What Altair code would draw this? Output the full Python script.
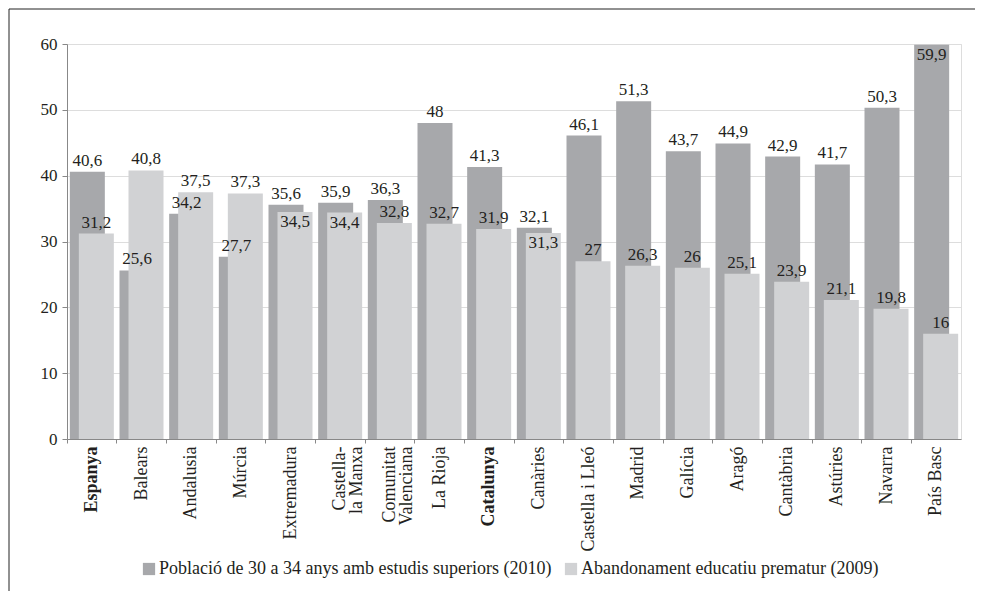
import altair as alt
import pandas as pd

categories = ["Espanya", "Balears", "Andalusia", "Múrcia", "Extremadura",
              "Castella-|la Manxa", "Comunitat|Valenciana", "La Rioja", "Catalunya",
              "Canàries", "Castella i Lleó", "Madrid", "Galícia", "Aragó",
              "Cantàbria", "Astúries", "Navarra", "País Basc"]
superiors = [40.6, 25.6, 34.2, 27.7, 35.6, 35.9, 36.3, 48, 41.3, 32.1,
             46.1, 51.3, 43.7, 44.9, 42.9, 41.7, 50.3, 59.9]
abandonament = [31.2, 40.8, 37.5, 37.3, 34.5, 34.4, 32.8, 32.7, 31.9, 31.3,
                27, 26.3, 26, 25.1, 23.9, 21.1, 19.8, 16]
series_names = ["Població de 30 a 34 anys amb estudis superiors (2010)",
                "Abandonament educatiu prematur (2009)"]
bold_labels = ["Espanya", "Catalunya"]
# labels drawn just inside the top of their bar instead of above it
inside_dark = ["País Basc"]
inside_light = ["Extremadura", "Castella-|la Manxa", "Canàries"]

rows = []
for i, c in enumerate(categories):
    rows.append({"cat": c, "series": series_names[0], "v": superiors[i],
                 "inside": c in inside_dark})
    rows.append({"cat": c, "series": series_names[1], "v": abandonament[i],
                 "inside": c in inside_light})
df = pd.DataFrame(rows)

FONT = "Liberation Serif"
DARK = "#a7a8ab"
LIGHT = "#d1d2d4"
TXT = "#231f20"

base = alt.Chart(df).transform_calculate(
    lab="replace(toString(datum.v), '.', ',')"
)

bold_expr = " || ".join([f"datum.value == '{b}'" for b in bold_labels])

x = alt.X("cat:N", sort=categories, title=None,
          scale=alt.Scale(paddingInner=0, paddingOuter=0),
          axis=alt.Axis(labelAngle=-90, labelAlign="right", labelBaseline="middle",
                        labelExpr="split(datum.label, '|')",
                        labelFont=FONT, labelFontSize=18, labelColor=TXT,
                        labelFontWeight=alt.expr(f"({bold_expr}) ? 'bold' : 'normal'"),
                        bandPosition=0, tickSize=4,
                        labelPadding=3, labelLineHeight=17))
y = alt.Y("v:Q", title=None,
          scale=alt.Scale(domain=[0, 60], nice=False),
          axis=alt.Axis(values=[0, 10, 20, 30, 40, 50, 60], tickSize=5,
                        labelFont=FONT, labelFontSize=17, labelColor=TXT,
                        labelPadding=5, grid=True))
color = alt.Color("series:N",
                  scale=alt.Scale(domain=series_names, range=[DARK, LIGHT]),
                  legend=alt.Legend(title=None, orient="none", legendX=73, legendY=516,
                                    direction="horizontal", symbolType="square",
                                    symbolSize=150, symbolStrokeWidth=0,
                                    labelFont=FONT, labelFontSize=18, labelColor=TXT,
                                    labelOffset=1, columnPadding=10, labelLimit=700))

dark_bars = base.transform_filter(alt.datum.series == series_names[0]).mark_bar(
    width=35, xOffset=-4.5).encode(x=x, y=y, color=color)
light_bars = base.transform_filter(alt.datum.series == series_names[1]).mark_bar(
    width=35, xOffset=4.5).encode(x=x, y=y, color=color)

def labels(idx, off, inside):
    flt = (alt.datum.series == series_names[idx]) & (alt.datum.inside == inside)
    return base.transform_filter(flt).mark_text(
        xOffset=off, baseline="top" if inside else "bottom",
        dy=2 if inside else -2, font=FONT, fontSize=17, color=TXT
    ).encode(x=alt.X("cat:N", sort=categories), y="v:Q", text="lab:N")

frame_data = alt.Data(values=[{"a": 1}])
frame_left = alt.Chart(frame_data).mark_rule(color="#222", strokeWidth=1).encode(
    x=alt.value(-58), y=alt.value(-35), y2=alt.value(547))
frame_top = alt.Chart(frame_data).mark_rule(color="#222", strokeWidth=1).encode(
    x=alt.value(-58), x2=alt.value(908), y=alt.value(-35))

chart = alt.layer(
    dark_bars, light_bars,
    labels(0, -4.5, False), labels(0, -4.5, True),
    labels(1, 4.5, False), labels(1, 4.5, True),
    frame_left, frame_top
).properties(width=894, height=395, padding=0).configure_view(
    stroke="#444", strokeWidth=1
).configure_axis(
    domainColor="#444", tickColor="#444", gridColor="#cfcfcf", gridWidth=1.5
).configure(background="white")

chart.save("out.html", embed_options={"renderer": "svg", "actions": False})
